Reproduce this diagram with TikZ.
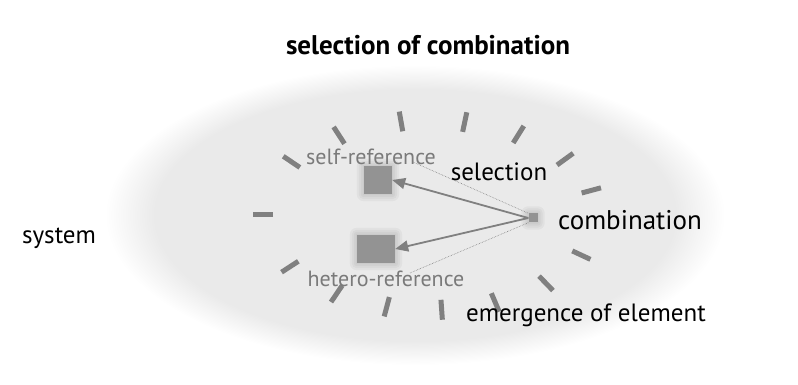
\documentclass[tikz,border=0pt]{standalone}
\usepackage{fontspec}
\setmainfont{PT Sans}
\definecolor{tickgray}{HTML}{808080}
\definecolor{labelgray}{HTML}{7A7A7A}
\definecolor{blobgray}{HTML}{EAEAEA}
\definecolor{markgray}{HTML}{939393}
\usetikzlibrary{calc, positioning, arrows.meta}
\pgfdeclareradialshading{blob}{\pgfpoint{0bp}{0bp}}{color(0bp)=(blobgray); color(21bp)=(blobgray); color(25bp)=(white); color(50bp)=(white)}
% soft edge round a box
\newcommand{\halo}[1]{%
  \foreach \h in {7,5,3,1}
    \fill[markgray, opacity=0.1, rounded corners=\h pt] ($(#1.south west)+(-\h,-\h)$) rectangle ($(#1.north east)+(\h,\h)$);}

\begin{document}
\begin{tikzpicture}[x=1pt, y=1pt,
  lbl/.style={font=\fontsize{25}{30}\selectfont, inner sep=0pt},
  reflbl/.style={font=\fontsize{22}{26}\selectfont, text=labelgray, inner sep=0pt},
  tickmark/.style={draw=tickgray, line width=5pt},
  softbox/.style={fill=markgray, inner sep=0pt},
  link/.style={draw=tickgray, line width=1.8pt, -{Triangle[length=13pt, width=11pt]}},
  hint/.style={draw=gray, densely dotted, line width=0.6pt}]
\useasboundingbox (0,0) rectangle (798,385);

% Soft background blob
\shade[shading=blob] (415,170) ellipse (310 and 150);

% Ticks around the ring
\coordinate (ring) at (430,170);
\foreach \a in {180,146,123,100,78,58,36,15,-25,-46,-67,-86,-105,-124,-147}
  \draw[tickmark] ($(ring)+(\a:167 and 95)+(\a:-10)$) -- ++(\a:20);

% Reference boxes and the combination point
\node[softbox, minimum width=28pt, minimum height=28pt] (self) at (378,205) {};
\node[softbox, minimum width=38pt, minimum height=28pt] (hetero) at (376,136) {};
\node[softbox, minimum size=9pt] (comb) at (533,167) {};
\halo{self}
\halo{hetero}
\halo{comb}

% Dotted hints from the labels
\coordinate (selfhint) at (413,223);
\coordinate (heterohint) at (410,112);
\draw[hint] (selfhint) -- (comb.north west);
\draw[hint] (heterohint) -- (comb.south west);

% Selection arrows
\draw[link] (comb.west) -- (self.east);
\draw[link] (comb.west) -- (hetero.east);

% Labels
\node[lbl, font=\fontsize{27}{32}\selectfont\bfseries] (title) at (428,340) {selection of combination};
\node[lbl] (system) at (59,147) {system};
\node[reflbl] (selfref) at (371,228) {self-reference};
\node[lbl] (selection) at (499,213) {selection};
\node[lbl, font=\fontsize{27}{32}\selectfont] (combination) at (630,165) {combination};
\node[reflbl] (heteroref) at (386,106) {hetero-reference};
\node[lbl] (emergence) at (586,70) {emergence of element};
\end{tikzpicture}
\end{document}
